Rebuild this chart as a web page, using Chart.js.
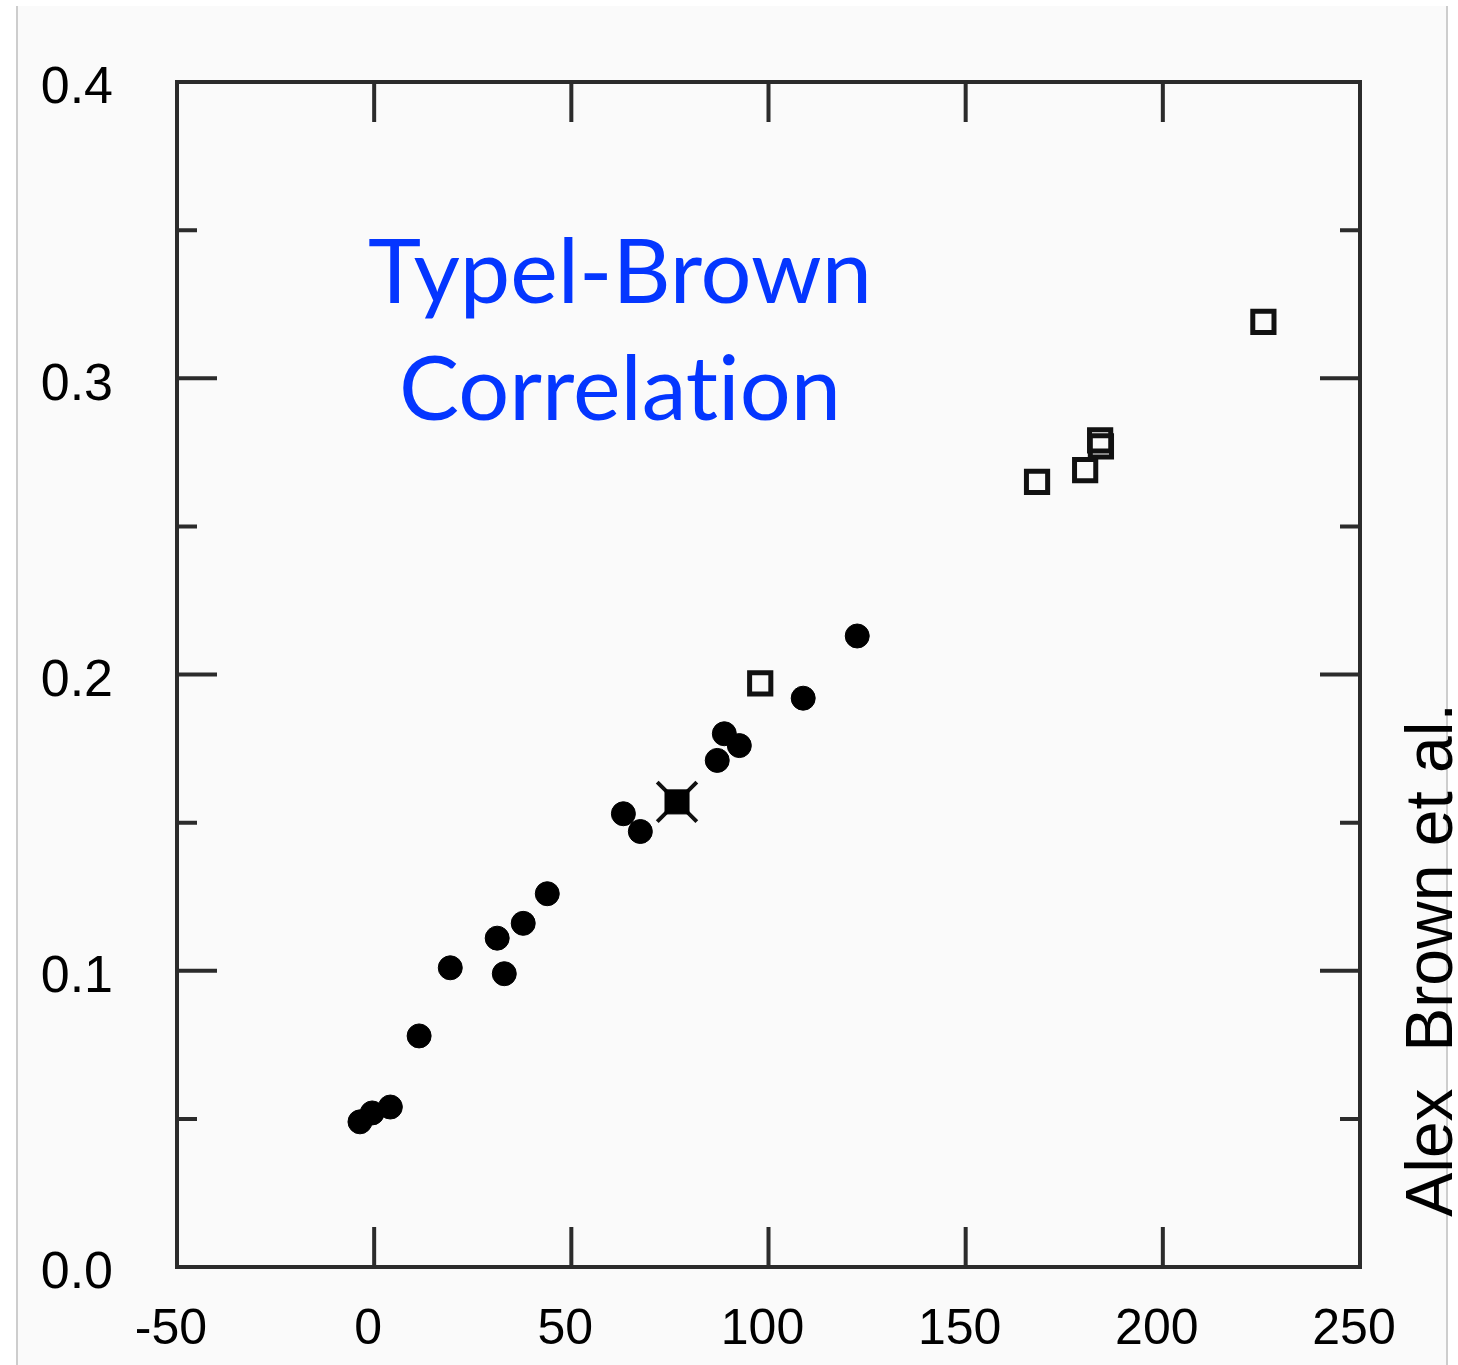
<!DOCTYPE html>
<html>
<head>
<meta charset="utf-8">
<script src="https://cdn.jsdelivr.net/npm/chart.js@4.4.1/dist/chart.umd.min.js"></script>
<style>
  body { margin: 0; background: #ffffff; }
  #fondo {
    position: absolute; left: 16px; top: 6px; width: 1428px; height: 1359px;
    background: #fafafa; border-left: 2px solid #cdcdcd; border-right: 2px solid #cdcdcd;
  }
  #grafica { position: absolute; left: 0; top: 0; }
</style>
</head>
<body>
<div id="fondo"></div>
<canvas id="grafica" width="1458" height="1365"></canvas>
<script>
// datos
const circulosX = [-3.6, -0.5, 4.1, 11.4, 19.3, 31.2, 33.0, 37.8, 43.9, 63.2, 67.5, 87.0, 88.8, 92.6, 108.8, 122.5]
const circulosY = [0.049, 0.052, 0.054, 0.078, 0.101, 0.111, 0.099, 0.116, 0.126, 0.153, 0.147, 0.171, 0.180, 0.176, 0.192, 0.213]
const cuadradosX = [97.9, 168.1, 180.3, 184.1, 184.3, 225.5]
const cuadradosY = [0.197, 0.265, 0.269, 0.279, 0.277, 0.319]
const estrellaX = [76.8]
const estrellaY = [0.157]

const ticksX = [-50, 0, 50, 100, 150, 200, 250]
const ticksY = [0.0, 0.1, 0.2, 0.3, 0.4]
const menoresY = [0.05, 0.15, 0.25, 0.35]

const titulo = ["Typel-Brown", "Correlation"]
const autor = "Alex  Brown et al."

let puntos = (xs, ys) => xs.map((x, i) => ({ x: x, y: ys[i] }))

// marco con ticks hacia adentro
const marco = {
    id: 'marco',
    afterDatasetsDraw(chart) {
        const { ctx, chartArea: a, scales } = chart
        ctx.save()
        ctx.strokeStyle = '#2b2b2b'
        ctx.lineWidth = 4
        ctx.lineCap = 'square'
        ctx.strokeRect(a.left, a.top, a.right - a.left, a.bottom - a.top)
        ctx.beginPath()
        ticksX.slice(1, -1).forEach(v => {
            const px = scales.x.getPixelForValue(v)
            ctx.moveTo(px, a.bottom); ctx.lineTo(px, a.bottom - 40)
            ctx.moveTo(px, a.top); ctx.lineTo(px, a.top + 40)
        })
        ticksY.slice(1, -1).forEach(v => {
            const py = scales.y.getPixelForValue(v)
            ctx.moveTo(a.left, py); ctx.lineTo(a.left + 40, py)
            ctx.moveTo(a.right, py); ctx.lineTo(a.right - 40, py)
        })
        menoresY.forEach(v => {
            const py = scales.y.getPixelForValue(v)
            ctx.moveTo(a.left, py); ctx.lineTo(a.left + 20, py)
            ctx.moveTo(a.right, py); ctx.lineTo(a.right - 20, py)
        })
        ctx.lineCap = 'butt'
        ctx.stroke()
        ctx.restore()
    },
    afterDraw(chart) {
        const { ctx } = chart
        ctx.save()
        // texto azul
        ctx.fillStyle = '#0436ff'
        ctx.font = '90px Lato'
        ctx.textRendering = 'optimizeSpeed'
        ctx.textAlign = 'center'
        ctx.textBaseline = 'alphabetic'
        ctx.fillText(titulo[0], 620, 303)
        ctx.fillText(titulo[1], 620, 420)
        // texto vertical
        ctx.translate(1452, 960)
        ctx.rotate(-Math.PI / 2)
        ctx.fillStyle = '#000000'
        ctx.font = '66px "Liberation Sans"'
        ctx.fillText(autor, 0, 0)
        ctx.restore()
    }
}

const $grafica = document.querySelector('#grafica')
new Chart($grafica, {
    type: 'scatter',
    data: {
        datasets: [
            {
                data: puntos(circulosX, circulosY),
                pointStyle: 'circle',
                pointRadius: 12,
                pointHoverRadius: 12,
                backgroundColor: '#000000',
                borderColor: '#000000',
                borderWidth: 1
            },
            {
                data: puntos(cuadradosX, cuadradosY),
                pointStyle: 'rect',
                pointRadius: 15,
                pointHoverRadius: 15,
                backgroundColor: 'rgba(0,0,0,0)',
                borderColor: '#111111',
                borderWidth: 5
            },
            {
                data: puntos(estrellaX, estrellaY),
                pointStyle: 'rect',
                pointRadius: 17,
                pointHoverRadius: 17,
                backgroundColor: '#000000',
                borderColor: '#000000',
                borderWidth: 1
            },
            {
                data: puntos(estrellaX, estrellaY),
                pointStyle: 'crossRot',
                pointRadius: 28,
                pointHoverRadius: 28,
                borderColor: '#111111',
                borderWidth: 4
            }
        ]
    },
    options: {
        responsive: false,
        animation: false,
        layout: { padding: { top: 82, right: 98, left: 0, bottom: 0 } },
        plugins: { legend: { display: false }, tooltip: { enabled: false } },
        scales: {
            x: {
                type: 'linear',
                min: -50,
                max: 250,
                grid: { display: false, drawTicks: false },
                border: { display: false },
                afterBuildTicks: (s) => { s.ticks = ticksX.map(v => ({ value: v })) },
                afterFit: (s) => { s.height = 98; s.paddingLeft = 0; s.paddingRight = 0 },
                ticks: {
                    color: '#000000',
                    font: { family: 'Liberation Sans', size: 50 },
                    padding: 33,
                    labelOffset: -6,
                    maxRotation: 0,
                    autoSkip: false,
                    callback: (v) => String(v)
                }
            },
            y: {
                type: 'linear',
                min: 0,
                max: 0.4,
                grid: { display: false, drawTicks: false },
                border: { display: false },
                afterBuildTicks: (s) => { s.ticks = ticksY.map(v => ({ value: v })) },
                afterFit: (s) => { s.width = 177; s.paddingTop = 0; s.paddingBottom = 0 },
                ticks: {
                    color: '#000000',
                    font: { family: 'Liberation Sans', size: 52 },
                    padding: 64,
                    labelOffset: 7,
                    autoSkip: false,
                    callback: (v) => v.toFixed(1)
                }
            }
        }
    },
    plugins: [marco]
});
</script>
</body>
</html>
